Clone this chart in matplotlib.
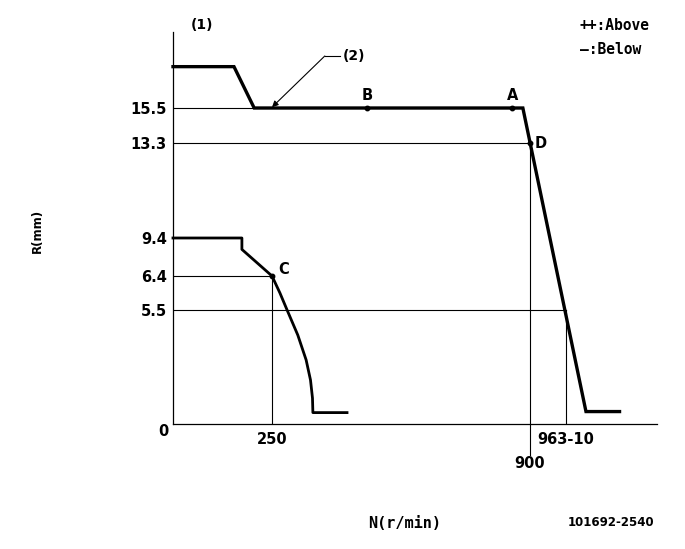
import numpy as np
import matplotlib
matplotlib.use("Agg")
import matplotlib.pyplot as plt

# ---------------- data ----------------
# upper (full-load) curve: speed N (r/min) vs rack R (mm)
upper_n = [0, 154, 205, 882, 1003, 1087]
upper_r = [18.1, 18.1, 15.5, 15.5, 0.6, 0.6]

# lower (idle) curve
lower_n = [0, 174, 174, 250, 270, 288, 315, 336, 347, 352, 353, 439]
lower_r = [9.4, 9.4, 8.5, 6.4, 5.95, 5.5, 4.29, 3.09, 2.12, 1.25, 0.55, 0.55]

# labelled check points
point_names = ["A", "B", "C", "D"]
point_n = [855, 490, 250, 900]
point_r = [15.5, 15.5, 6.4, 13.3]

# tick values / labels
y_ticks = [5.5, 6.4, 9.4, 13.3, 15.5]
y_tick_labels = ["5.5", "6.4", "9.4", "13.3", "15.5"]
x_ticks = [250, 953]
x_tick_labels = ["250", "963-10"]

# the drawing is schematic: piecewise-linear scale anchors (value -> drawing units)
X_ANCH_VAL = [-200, 0, 250, 900, 953, 1400]
X_ANCH_POS = [-79.2, 0, 99, 357, 393, 571.6]
Y_ANCH_VAL = [-5, 0, 5.5, 6.4, 9.4, 13.3, 15.5, 30]
Y_ANCH_POS = [-103.6, 0, 114, 148, 186, 281, 316, 546.6]


def fwd(vals, pos):
    return lambda v: np.interp(v, vals, pos)


def inv(vals, pos):
    return lambda p: np.interp(p, pos, vals)


# ---------------- figure ----------------
W, H = 685, 549
fig = plt.figure(figsize=(W / 100, H / 100), dpi=100)
ax = fig.add_axes([173 / W, (H - 424) / H, (657 - 173) / W, (424 - 32) / H])

ax.set_xscale("function", functions=(fwd(X_ANCH_VAL, X_ANCH_POS), inv(X_ANCH_VAL, X_ANCH_POS)))
ax.set_yscale("function", functions=(fwd(Y_ANCH_VAL, Y_ANCH_POS), inv(Y_ANCH_VAL, Y_ANCH_POS)))
ax.set_xlim(0, float(np.interp(484, X_ANCH_POS, X_ANCH_VAL)))
ax.set_ylim(0, float(np.interp(392, Y_ANCH_POS, Y_ANCH_VAL)))

for s in ["top", "right"]:
    ax.spines[s].set_visible(False)
for s in ["left", "bottom"]:
    ax.spines[s].set_linewidth(0.9)

BOLD = dict(family="DejaVu Sans", weight="bold")
MONO = dict(family="DejaVu Sans Mono", weight="bold")

ax.set_yticks(y_ticks, labels=y_tick_labels)
ax.set_xticks(x_ticks, labels=x_tick_labels)
ax.tick_params(axis="y", length=0, pad=4.5, labelsize=10.5)
ax.tick_params(axis="x", length=0, pad=6, labelsize=10.5)
for lab in ax.get_xticklabels() + ax.get_yticklabels():
    lab.set_fontfamily("DejaVu Sans")
    lab.set_fontweight("bold")

# thin reference lines
thin = dict(color="black", lw=0.8)
ax.plot([0, 882], [15.5, 15.5], **thin)
ax.plot([0, 900], [13.3, 13.3], **thin)
ax.plot([0, 250], [6.4, 6.4], **thin)
ax.plot([0, 953], [5.5, 5.5], **thin)
ax.plot([250, 250], [0, 6.4], **thin)
ax.plot([953, 953], [0, 5.5], **thin)
ax.plot([900, 900], [-1.5, 13.3], clip_on=False, **thin)

# curves
ax.plot(upper_n, upper_r, color="black", lw=2.4, solid_joinstyle="miter", clip_on=False)
ax.plot(lower_n, lower_r, color="black", lw=2.0, solid_joinstyle="round", clip_on=False)

# points and their letters
ax.plot(point_n, point_r, "o", color="black", ms=3.2, clip_on=False)
offsets = {"A": (0, 13, "center"), "B": (0, 13, "center"), "C": (6, 6, "left"), "D": (5, 0, "left")}
for name, n, r in zip(point_names, point_n, point_r):
    dx, dy, ha = offsets[name]
    ax.annotate(name, xy=(n, r), xytext=(dx, dy), textcoords="offset pixels",
                ha=ha, va="center", fontsize=10.5, **BOLD)

# extra axis labels
ax.annotate("0", xy=(0, 0), xytext=(-9.5, -8), textcoords="offset pixels",
            ha="center", va="center", fontsize=10.5, annotation_clip=False, **BOLD)
ax.annotate("900", xy=(900, 0), xytext=(0, -40), textcoords="offset pixels",
            ha="center", va="center", fontsize=10.5, annotation_clip=False, **BOLD)

# callout (2)
ax.annotate("", xy=(250, 15.55), xytext=(383, 18.77),
            arrowprops=dict(arrowstyle="-|>", color="black", lw=0.8,
                            mutation_scale=9, shrinkA=0, shrinkB=0))
ax.plot([383, 421], [18.77, 18.77], color="black", lw=0.8)
ax.text(428, 18.77, "(2)", ha="left", va="center", fontsize=10, **BOLD)

# texts around the frame
fig.text(202 / W, 1 - 25 / H, "(1)", ha="center", va="center", fontsize=10, **BOLD)
fig.text(580 / W, 1 - 26 / H, "++:Above", ha="left", va="center", fontsize=10.5, **MONO)
fig.text(580 / W, 1 - 49 / H, "\u2014:Below", ha="left", va="center", fontsize=10.5, **MONO)
fig.text(37 / W, 1 - 231 / H, "R(mm)", rotation=90, ha="center", va="center", fontsize=8.5, **BOLD)
fig.text(405 / W, 1 - 523 / H, "N(r/min)", ha="center", va="center", fontsize=11, **MONO)
fig.text(611 / W, 1 - 522 / H, "101692-2540", ha="center", va="center", fontsize=8.5, **BOLD)

fig.savefig("out.png", dpi=100)
